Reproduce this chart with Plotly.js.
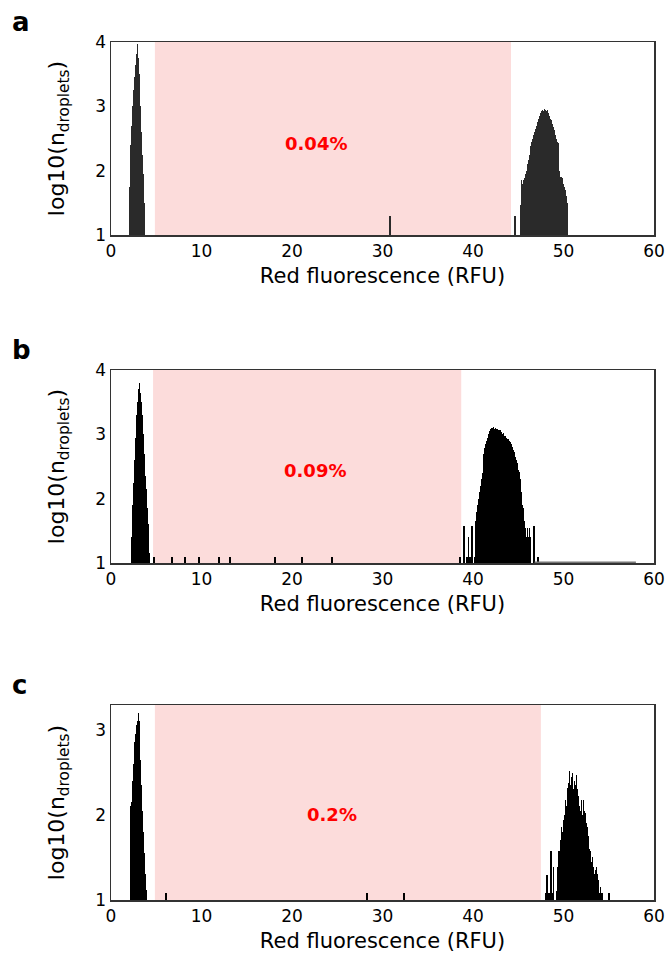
<!DOCTYPE html>
<html><head><meta charset="utf-8">
<script src="https://cdn.plot.ly/plotly-3.0.1.min.js"></script>
<style>body{margin:0;background:#fff}#chart{width:666px;height:953px}</style>
</head><body><div id="chart"></div>
<script>
const binWidth = 0.1;
const rareWidth = 0.2;

// ---- Panel a ----
const aLeftStart = 2.0;
const aLeftVals = [1.75, 2.1, 2.4, 2.7, 3.0, 3.25, 3.45, 3.65, 3.82, 3.97, 3.75, 3.5, 3.3, 3.0, 2.6, 2.25, 1.95, 1.5];
const aRightStart = 45.2;
const aRightVals = [1.47, 1.6, 1.85, 1.8, 1.85, 1.88, 1.95, 2.0, 2.1, 2.17, 2.25, 2.3, 2.38, 2.45, 2.5, 2.55, 2.6, 2.65, 2.7, 2.75,
  2.8, 2.85, 2.88, 2.9, 2.93, 2.95, 2.93, 2.96, 2.95, 2.93, 2.94, 2.9, 2.88, 2.85, 2.8, 2.78, 2.72, 2.68, 2.63, 2.55,
  2.5, 2.45, 2.43, 2.2, 2.0, 1.9, 1.9, 1.88, 1.8, 1.75, 1.7, 1.6, 1.5, 1.47];
const aRareX = [30.8, 44.6];
const aRareY = [1.3, 1.29];

// ---- Panel b ----
const bLeftStart = 2.3;
const bLeftVals = [1.4, 1.9, 2.25, 2.6, 2.95, 3.3, 3.5, 3.7, 3.8, 3.78, 3.65, 3.5, 3.3, 3.0, 2.7, 2.35, 2.15, 1.85, 1.6, 1.4, 1.15];
const bRightStart = 40.2;
const bRightVals = [1.1, 1.65, 1.8, 1.9, 2.0, 2.1, 2.2, 2.3, 2.4, 2.55, 2.7, 2.78, 2.85, 2.9, 2.95, 3.0, 3.05, 3.08, 3.1, 3.11,
  3.1, 3.11, 3.09, 3.1, 3.08, 3.09, 3.07, 3.06, 3.07, 3.04, 3.05, 3.0, 3.02, 2.98, 2.97, 2.95, 2.92, 2.93, 2.9, 2.88,
  2.86, 2.85, 2.8, 2.75, 2.72, 2.65, 2.6, 2.55, 2.45, 2.42, 2.3, 2.2, 2.1, 1.9, 1.85, 1.65, 1.55, 1.4, 1.55, 1.4,
  1.55, 1.4, 1.4];
const bRareX = [4.75, 6.74, 8.18, 9.72, 11.93, 13.15, 18.12, 21.1, 24.4, 38.6, 39.0, 39.3, 39.5, 39.7, 39.9, 46.7, 47.2];
const bRareY = [1.1, 1.1, 1.1, 1.1, 1.1, 1.1, 1.1, 1.1, 1.1, 1.1, 1.57, 1.1, 1.41, 1.1, 1.57, 1.57, 1.1];
const bTailX = [46.8, 58.0];
const bTailY = [1.01, 1.01];

// ---- Panel c ----
const cLeftStart = 2.1;
const cLeftVals = [1.3, 2.1, 2.15, 2.4, 2.6, 2.85, 2.95, 3.05, 3.1, 3.2, 3.1, 2.85, 2.65, 2.35, 2.05, 1.8, 1.55, 1.3, 1.12];
const cRightStart = 49.2;
const cRightVals = [1.1, 1.39, 1.57, 1.45, 1.57, 1.7, 1.86, 1.8, 1.94, 2.0, 2.18, 2.1, 2.31, 2.25, 2.37, 2.51, 2.35, 2.45, 2.49, 2.3,
  2.4, 2.35, 2.47, 2.3, 2.35, 2.22, 2.1, 2.05, 2.18, 2.0, 2.18, 2.05, 2.02, 1.9, 1.95, 1.86, 1.75, 1.6, 1.57, 1.45,
  1.5, 1.39, 1.3, 1.35, 1.39, 1.2, 1.3, 1.24, 1.08, 1.15, 1.08, 1.08];
const cRareX = [6.08, 28.3, 32.4, 48.0, 48.2, 48.4, 48.6, 48.8, 48.9, 55.0];
const cRareY = [1.08, 1.08, 1.08, 1.08, 1.29, 1.08, 1.57, 1.08, 1.39, 1.08];

// ---- Gates, labels ----
const panelLetters = ['a', 'b', 'c'];
const gateLow = [4.85, 4.65, 4.85];
const gateHigh = [44.2, 38.7, 47.5];
const gateText = ['0.04%', '0.09%', '0.2%'];
const gateTextX = [22.7, 22.5, 24.4];
const gateTextY = [2.43, 2.43, 2.0];
const yRanges = [[1, 4], [1, 4], [1, 3.29]];
const yTicks = [[1, 2, 3, 4], [1, 2, 3, 4], [1, 2, 3]];
const xTicks = [0, 10, 20, 30, 40, 50, 60];
const barColors = ['#2a2a2a', '#000000', '#000000'];

function bins(start, vals) {
  return vals.map((v, i) => +(start + i * binWidth).toFixed(2));
}

const panels = [
  {left: [aLeftStart, aLeftVals], right: [aRightStart, aRightVals], rare: [aRareX, aRareY]},
  {left: [bLeftStart, bLeftVals], right: [bRightStart, bRightVals], rare: [bRareX, bRareY]},
  {left: [cLeftStart, cLeftVals], right: [cRightStart, cRightVals], rare: [cRareX, cRareY]}
];

const W = 666, H = 953;
const xDom = [111 / W, 654 / W];
const yPx = [[42, 235], [370, 563], [705, 900]];
const font = 'DejaVu Sans, sans-serif';

const traces = [];
const layout = {
  width: W, height: H, margin: {l: 0, r: 0, t: 0, b: 0},
  paper_bgcolor: '#fff', plot_bgcolor: 'rgba(0,0,0,0)',
  showlegend: false, bargap: 0, barmode: 'overlay',
  font: {family: font, color: '#000'},
  shapes: [], annotations: []
};

panels.forEach((p, k) => {
  const xa = k === 0 ? 'x' : 'x' + (k + 1);
  const ya = k === 0 ? 'y' : 'y' + (k + 1);
  const xk = k === 0 ? 'xaxis' : 'xaxis' + (k + 1);
  const yk = k === 0 ? 'yaxis' : 'yaxis' + (k + 1);
  const allX = bins(p.left[0], p.left[1]).concat(bins(p.right[0], p.right[1]));
  const allY = p.left[1].concat(p.right[1]);
  traces.push({
    type: 'bar', x: allX, y: allY, width: binWidth, xaxis: xa, yaxis: ya,
    marker: {color: barColors[k], line: {width: 0}}, hoverinfo: 'x+y'
  });
  traces.push({
    type: 'bar', x: p.rare[0], y: p.rare[1], width: rareWidth, xaxis: xa, yaxis: ya,
    marker: {color: barColors[k], line: {width: 0}}, hoverinfo: 'x+y'
  });
  if (k === 1) {
    traces.push({type: 'scatter', mode: 'lines', x: bTailX, y: bTailY, xaxis: xa, yaxis: ya,
      line: {color: '#777', width: 1.5}});
  }
  layout[xk] = {
    domain: xDom, anchor: ya, range: [0, 60], tickvals: xTicks, ticks: '',
    showline: true, mirror: true, linecolor: '#333', linewidth: 1.5,
    showgrid: false, zeroline: false, tickfont: {size: 17, family: font, color: '#000'},
    title: {text: 'Red fluorescence (RFU)', font: {size: 21, family: font, color: '#000'}, standoff: 8}
  };
  layout[yk] = {
    domain: [1 - yPx[k][1] / H, 1 - yPx[k][0] / H], anchor: xa, range: yRanges[k],
    tickvals: yTicks[k], ticks: '', showline: true, mirror: true, linecolor: '#333', linewidth: 1.5,
    showgrid: false, zeroline: false, tickfont: {size: 17, family: font, color: '#000'},
    title: {text: 'log10(n<sub>droplets</sub>)', font: {size: 22, family: font, color: '#000'}, standoff: 24}
  };
  layout.shapes.push({
    type: 'rect', xref: xa, yref: ya + ' domain', x0: gateLow[k], x1: gateHigh[k], y0: 0, y1: 1,
    fillcolor: '#fcdcdb', line: {width: 0}, layer: 'below'
  });
  layout.annotations.push({
    xref: xa, yref: ya, x: gateTextX[k], y: gateTextY[k], text: '<b>' + gateText[k] + '</b>',
    showarrow: false, font: {size: 18, color: '#ff0000', family: font}
  });
  layout.annotations.push({
    xref: 'paper', yref: 'paper', x: 10 / W, y: 1 - (yPx[k][0] - 20) / H, xanchor: 'left', yanchor: 'middle',
    text: '<b>' + panelLetters[k] + '</b>', showarrow: false, font: {size: 26, color: '#000', family: font}
  });
});

Plotly.newPlot('chart', traces, layout, {displayModeBar: false, staticPlot: true});
</script></body></html>
